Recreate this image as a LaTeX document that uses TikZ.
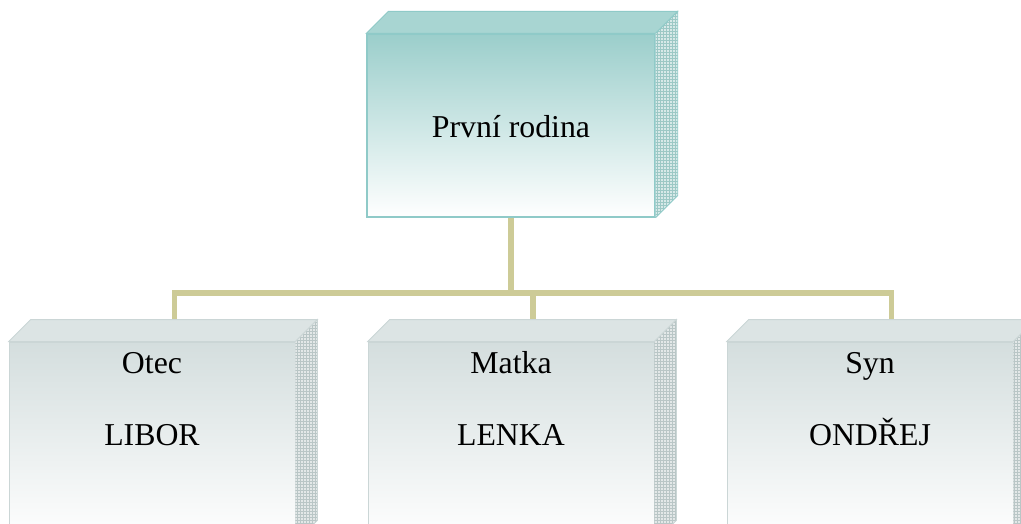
\documentclass[tikz,border=0pt]{standalone}
\usepackage{fontspec}
\setmainfont{Liberation Serif}
\newfontfamily\timesfam{Liberation Serif}
\usetikzlibrary{calc,patterns}
\definecolor{tealTop}{HTML}{9BCECB}
\definecolor{tealLid}{HTML}{A8D5D2}
\definecolor{tealEdge}{HTML}{8FCAC8}
\definecolor{tealGrid}{HTML}{9CC8C5}
\definecolor{grayTop}{HTML}{D4DEDE}
\definecolor{grayLid}{HTML}{DCE4E4}
\definecolor{grayEdge}{HTML}{CBD6D6}
\definecolor{grayGrid}{HTML}{B9C6C6}
\definecolor{linkCol}{HTML}{CDCB97}
\tikzset{
  headbox/.style={minimum width=288pt, minimum height=183pt, inner sep=0pt,
    draw=tealEdge, line width=1.3pt, top color=tealTop, bottom color=white},
  childbox/.style={minimum width=286pt, minimum height=200pt, inner sep=0pt,
    draw=grayEdge, line width=0.8pt, top color=grayTop, bottom color=white},
  lbl/.style={anchor=base, inner sep=0pt, font=\timesfam\fontsize{31.8}{32}\selectfont},
  link/.style={draw=linkCol, line width=5.5pt},
}
\newcommand{\boxlid}[4]{% node, lid colour, edge colour, grid colour
  \filldraw[fill=#2, draw=#3, line width=0.8pt]
    (#1.north west) -- ++(22,22) -- ($(#1.north east)+(22,22)$) -- (#1.north east) -- cycle;
  \fill[white!60!#4] (#1.north east) -- ++(22,22) -- ($(#1.south east)+(22,22)$) -- (#1.south east) -- cycle;
  \fill[pattern=grid, pattern color=#4] (#1.north east) -- ++(22,22) -- ($(#1.south east)+(22,22)$) -- (#1.south east) -- cycle;
  \draw[#3, line width=0.8pt] (#1.north east) -- ++(22,22) -- ($(#1.south east)+(22,22)$) -- (#1.south east);
}
\begin{document}
\begin{tikzpicture}[x=1pt,y=1pt]
\useasboundingbox (0,0) rectangle (1021,-523);
% coordinates of connector ends
\coordinate (h) at (511,-293);
\coordinate (ca) at (174.5,-321);
\coordinate (cb) at (533,-321);
\coordinate (cc) at (891.5,-321);
\coordinate (top) at (511,-217);
% connectors
\draw[link] (top) -- (h);
\draw[link] (ca) -- (ca |- h) -- (cc |- h) -- (cc);
\draw[link] (cb) -- (cb |- h);
% head box
\node[headbox] (head) at (511,-125.5) {};
\boxlid{head}{tealLid}{tealEdge}{tealGrid}
\node[lbl] (headtxt) at ($(head.north)+(0,-104)$) {První rodina};
% children
\node[childbox] (otec) at (152,-442) {};
\boxlid{otec}{grayLid}{grayEdge}{grayGrid}
\node[childbox] (matka) at (511,-442) {};
\boxlid{matka}{grayLid}{grayEdge}{grayGrid}
\node[childbox] (syn) at (870,-442) {};
\boxlid{syn}{grayLid}{grayEdge}{grayGrid}
\node[lbl] (otec1) at ($(otec.north)+(0,-32)$) {Otec};
\node[lbl] (otec2) at ($(otec.north)+(0,-104)$) {LIBOR};
\node[lbl] (matka1) at ($(matka.north)+(0,-32)$) {Matka};
\node[lbl] (matka2) at ($(matka.north)+(0,-104)$) {LENKA};
\node[lbl] (syn1) at ($(syn.north)+(0,-32)$) {Syn};
\node[lbl] (syn2) at ($(syn.north)+(0,-104)$) {ONDŘEJ};
\end{tikzpicture}
\end{document}
